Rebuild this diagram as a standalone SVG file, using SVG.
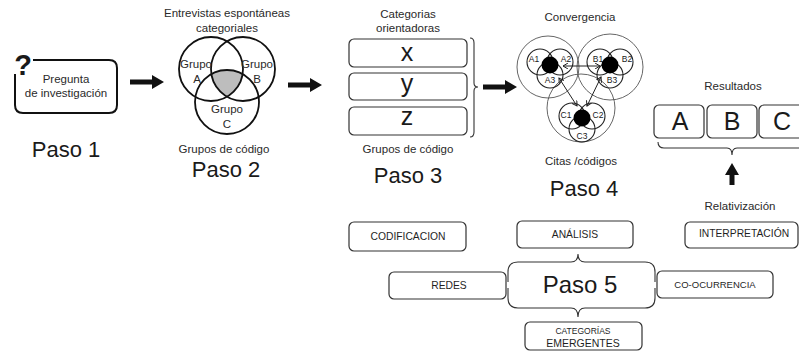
<svg xmlns="http://www.w3.org/2000/svg" width="799" height="352" viewBox="0 0 799 352">
<defs>
<style>
text{font-family:"Liberation Sans","DejaVu Sans",sans-serif;fill:#1a1a1a;text-anchor:middle}
.paso{font-size:22px}
.lbl{font-size:11.5px;fill:#2a2a2a}
.small{font-size:8.5px}
.box{fill:#fff;stroke:#333;stroke-width:1.2}
.venn{fill:none;stroke:#111;stroke-width:1.8}
.big{fill:none;stroke:#555;stroke-width:0.9}
.sm{fill:none;stroke:#222;stroke-width:1.1}
.brace{fill:none;stroke:#333;stroke-width:1.1}
.cap{font-size:10.3px;fill:#1f1f1f}
.thick{fill:#111}
.letter{font-size:25px}
</style>
<clipPath id="clipA"><circle cx="211" cy="69" r="32"/></clipPath>
<clipPath id="clipB"><circle cx="243" cy="69" r="32"/></clipPath>
<marker id="ah" markerWidth="6" markerHeight="6" refX="5" refY="3" orient="auto-start-reverse" markerUnits="userSpaceOnUse">
<path d="M0,0 L5,3 L0,6" fill="none" stroke="#222" stroke-width="1"/>
</marker>
</defs>

<g id="paso1">
<path d="M33 60 H109 Q117 60 117 68 V105 Q117 113 109 113 H23 Q15 113 15 105 V74" fill="none" stroke="#111" stroke-width="2"/>
<text x="23" y="75" style="font-size:29px;font-weight:bold">?</text>
<text x="66" y="83" class="lbl">Pregunta</text>
<text x="66" y="97" class="lbl">de investigación</text>
<text x="66" y="157" class="paso">Paso 1</text>
</g>

<g id="paso2">
<text x="227" y="17" class="lbl">Entrevistas espontáneas</text>
<text x="227" y="32" class="lbl">categoriales</text>
<g clip-path="url(#clipA)"><g clip-path="url(#clipB)"><circle cx="227" cy="102" r="32" fill="#bdbdbd"/></g></g>
<circle cx="211" cy="69" r="32" class="venn"/>
<circle cx="243" cy="69" r="32" class="venn"/>
<circle cx="227" cy="102" r="32" class="venn"/>
<text x="196" y="68" class="lbl">Grupo</text>
<text x="197" y="83" class="lbl">A</text>
<text x="257" y="68" class="lbl">Grupo</text>
<text x="257" y="83" class="lbl">B</text>
<text x="227" y="113" class="lbl">Grupo</text>
<text x="227" y="128" class="lbl">C</text>
<text x="224" y="153" class="lbl">Grupos de código</text>
<text x="226" y="177" class="paso">Paso 2</text>
</g>

<g id="paso3">
<text x="408" y="18" class="lbl">Categorias</text>
<text x="408" y="32" class="lbl">orientadoras</text>
<rect x="349" y="39" width="118" height="28" rx="5" class="box"/>
<rect x="349" y="73" width="118" height="27" rx="5" class="box"/>
<rect x="349" y="107" width="118" height="28" rx="5" class="box"/>
<text x="407" y="61" class="letter">x</text>
<text x="407" y="92" class="letter">y</text>
<text x="407" y="125" class="letter">z</text>
<path d="M470 38 Q474 38 474 43 V83 Q474 87 478 87 Q474 87 474 91 V132 Q474 137 470 137" class="brace"/>
<text x="408" y="153" class="lbl">Grupos de código</text>
<text x="408" y="183" class="paso">Paso 3</text>
</g>

<g id="paso4">
<text x="580" y="21" class="lbl">Convergencia</text>
<circle cx="548" cy="67" r="31" class="big"/>
<circle cx="610" cy="67" r="33" class="big"/>
<circle cx="581" cy="108" r="34" class="big"/>
<g id="grupoA">
<circle cx="540" cy="62" r="13" class="sm"/>
<circle cx="560" cy="62" r="13" class="sm"/>
<circle cx="550" cy="75" r="13" class="sm"/>
<circle cx="550" cy="65" r="8.5" fill="#000"/>
<text x="534" y="62" class="small">A1</text>
<text x="566" y="62" class="small">A2</text>
<text x="550" y="83" class="small">A3</text>
</g>
<g id="grupoB">
<circle cx="600" cy="62" r="13" class="sm"/>
<circle cx="620" cy="62" r="13" class="sm"/>
<circle cx="610" cy="75" r="13" class="sm"/>
<circle cx="610" cy="65" r="8.5" fill="#000"/>
<text x="598" y="62" class="small">B1</text>
<text x="627" y="62" class="small">B2</text>
<text x="612" y="83" class="small">B3</text>
</g>
<g id="grupoC">
<circle cx="572" cy="116" r="13" class="sm"/>
<circle cx="592" cy="116" r="13" class="sm"/>
<circle cx="582" cy="129" r="13" class="sm"/>
<circle cx="582" cy="118" r="8.5" fill="#000"/>
<text x="566" y="118" class="small">C1</text>
<text x="598" y="118" class="small">C2</text>
<text x="582" y="139" class="small">C3</text>
</g>
<text x="581" y="165" class="lbl">Citas /códigos</text>
<text x="584" y="196" class="paso">Paso 4</text>
</g>

<g id="resultados">
<text x="733" y="90" class="lbl">Resultados</text>
<rect x="654" y="105" width="50" height="33" rx="5" class="box" stroke="#666"/>
<rect x="707" y="105" width="50" height="33" rx="5" class="box" stroke="#666"/>
<rect x="759" y="105" width="50" height="33" rx="5" class="box" stroke="#666"/>
<text x="680" y="130" class="letter">A</text>
<text x="732" y="130" class="letter">B</text>
<text x="782" y="130" class="letter">C</text>
<path d="M658 142 Q658 148 664 148 H727 Q732 148 732 155 Q732 148 737 148 H799" class="brace" stroke-width="1.4"/>
<text x="740" y="210" class="lbl">Relativización</text>
</g>

<g id="paso5">
<path d="M508 282 V272 Q508 262 518 262 H571 Q578 262 578 254 Q578 262 585 262 H645 Q655 262 655 272 V282" class="brace" stroke-width="1.2"/>
<path d="M508 288 V298 Q508 308 518 308 H571 Q578 308 578 317 Q578 308 585 308 H645 Q655 308 655 298 V288" class="brace" stroke-width="1.2"/>
<text x="580" y="293" style="font-size:24px">Paso 5</text>
</g>

<g id="codificacion">
<rect x="349" y="222" width="117" height="29" rx="5" class="box"/>
<text x="408" y="240" class="cap">CODIFICACION</text>
</g>
<g id="analisis">
<rect x="517" y="221" width="116" height="27" rx="5" class="box"/>
<text x="575" y="238" class="cap">ANÁLISIS</text>
</g>
<g id="interpretacion">
<rect x="685" y="222" width="113" height="26" rx="5" class="box"/>
<text x="744" y="237" class="cap">INTERPRETACIÓN</text>
</g>
<g id="redes">
<rect x="389" y="272" width="117" height="27" rx="5" class="box"/>
<text x="449" y="289" class="cap">REDES</text>
</g>
<g id="coocurrencia">
<rect x="657" y="271" width="116" height="27" rx="5" class="box"/>
<text x="715" y="288" class="cap" style="font-size:9.5px">CO-OCURRENCIA</text>
</g>
<g id="emergentes">
<rect x="525" y="322" width="117" height="28" rx="5" class="box"/>
<text x="583" y="334" class="cap" style="font-size:8.5px">CATEGORÍAS</text>
<text x="583" y="347" class="cap" style="font-size:10.5px">EMERGENTES</text>
</g>

<g id="connectors">
<path d="M130 79.5 H152 V75 L164 82 L152 89 V84.5 H130 Z" class="thick"/>
<path d="M288 82.5 H310 V78 L322 85 L310 92 V87.5 H288 Z" class="thick"/>
<path d="M483 84.5 H505 V80 L517 87 L505 94 V89.5 H483 Z" class="thick"/>
<path d="M729.5 185 V175 H725 L732 163 L739 175 H734.5 V185 Z" class="thick"/>
<line x1="563" y1="66" x2="600" y2="66" stroke="#222" stroke-width="1" marker-start="url(#ah)" marker-end="url(#ah)"/>
<line x1="559" y1="78" x2="577" y2="106" stroke="#222" stroke-width="1" marker-start="url(#ah)" marker-end="url(#ah)"/>
<line x1="601" y1="77" x2="587" y2="106" stroke="#222" stroke-width="1" marker-start="url(#ah)" marker-end="url(#ah)"/>
</g>
</svg>
